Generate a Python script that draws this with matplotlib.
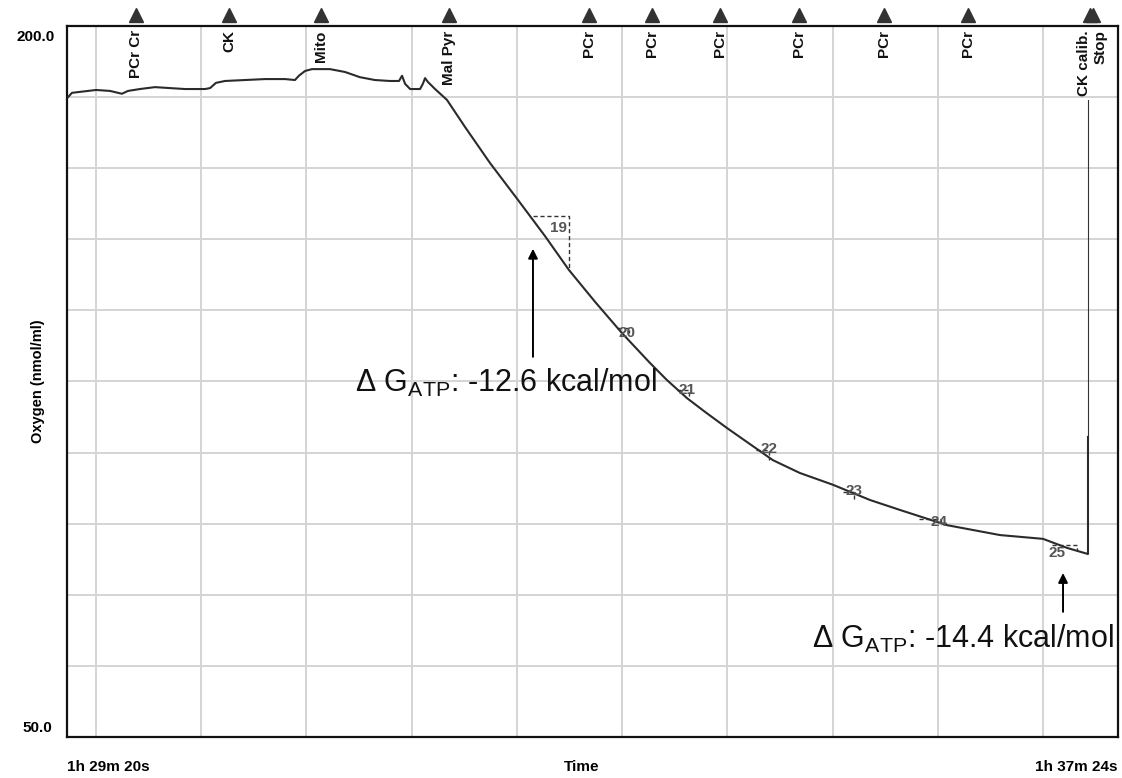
#!/usr/bin/env python3
"""Oxygen trace with event markers and rate boxes, drawn with matplotlib."""
import matplotlib
matplotlib.use("Agg")
import matplotlib.pyplot as plt
import matplotlib.transforms as mtransforms

plt.rcParams["font.family"] = ["Liberation Sans", "DejaVu Sans"]
plt.rcParams["mathtext.fontset"] = "custom"
plt.rcParams["mathtext.rm"] = "Liberation Sans"

# time in seconds from 1h 29m 20s, oxygen in nmol/ml
time_s = [0.5, 2.3, 6.0, 13.4, 19.8, 23.5, 25.3, 28.1, 33.6, 40.5, 47.4, 54.3,
          63.6, 65.9, 68.6, 72.8, 82.0, 91.2, 100.4, 105.0, 106.8, 109.6, 112.8,
          121.1, 128.0, 134.9, 141.8, 148.7, 152.9, 154.3, 155.7, 158.0, 162.6,
          163.9, 164.9, 166.2, 169.5, 175.0, 183.3, 194.8, 207.7, 220.1, 231.2,
          243.2, 255.6, 268.5, 276.3, 285.5, 293.8, 303.9, 314.5, 325.1, 337.5,
          352.8, 369.8, 383.6, 405.2, 429.7, 449.5, 460.5, 470.2, 470.2]
oxygen = [185.0, 185.9, 186.1, 186.5, 186.3, 185.9, 185.7, 186.3, 186.7, 187.1,
          186.9, 186.7, 186.7, 186.9, 188.0, 188.4, 188.6, 188.8, 188.8, 188.6,
          189.5, 190.5, 190.9, 190.9, 190.3, 189.2, 188.6, 188.4, 188.4, 189.5,
          187.8, 186.7, 186.7, 187.8, 189.0, 188.2, 186.7, 184.4, 178.7, 171.1,
          163.3, 155.7, 148.5, 141.8, 135.2, 128.9, 125.3, 121.5, 118.6, 115.2,
          111.8, 108.4, 105.7, 103.2, 100.0, 97.9, 94.7, 92.6, 91.8, 89.9, 88.6,
          113.3]

event_times = [31.8, 74.6, 117.0, 175.9, 240.4, 269.4, 300.7, 337.1, 376.2,
               414.9, 471.0, 472.6]
event_labels = ["PCr Cr", "CK", "Mito", "Mal Pyr", "PCr", "PCr", "PCr", "PCr",
                "PCr", "PCr", "CK calib.", "Stop"]
# label positions of the last two events are pulled apart a little
event_label_times = [31.8, 74.6, 117.0, 175.9, 240.4, 269.4, 300.7, 337.1,
                     376.2, 414.9, 468.2, 476.0]

# rate boxes: start time, end time, top value, bottom value, label
box_t0 = [214.6, 253.3, 280.9, 317.2, 357.3, 392.2, 453.6]
box_t1 = [231.2, 258.8, 286.4, 323.2, 362.3, 402.3, 465.1]
box_top = [159.9, 136.2, 123.1, 110.6, 101.6, 95.9, 90.4]
box_bot = [148.5, 135.2, 121.5, 108.4, 100.0, 94.7, 89.3]
box_labels = ["19", "20", "21", "22", "23", "24", "25"]
label_t = [226.2, 258.0, 285.5, 323.2, 362.3, 401.7, 455.8]
label_v = [157.4, 135.3, 123.1, 110.8, 102.0, 95.4, 88.8]

# delta G annotations
dg_text = ["Δ G$_{\\mathrm{ATP}}$: -12.6 kcal/mol",
           "Δ G$_{\\mathrm{ATP}}$: -14.4 kcal/mol"]
dg_text_t = [132.6, 343.1]
dg_text_v = [124.7, 70.6]
dg_arrow_t = [214.6, 458.7]
dg_arrow_tail = [130.2, 76.4]
dg_arrow_head = [153.0, 84.6]

x_grid = [13.4 + 48.45 * k for k in range(10)]
y_grid = [50 + 15 * k for k in range(11)]


def main():
    fig = plt.figure(figsize=(11.22, 7.78), dpi=100)
    ax = fig.add_axes([0.0597, 0.0527, 0.9367, 0.9139])
    ax.set_xlim(0, 484)
    ax.set_ylim(50, 200)

    for gx in x_grid:
        ax.axvline(gx, color="#d4d4d4", lw=1.4, zorder=0)
    for gy in y_grid:
        ax.axhline(gy, color="#d4d4d4", lw=1.4, zorder=0)

    ax.set_xticks([])
    ax.set_yticks([])
    for sp in ax.spines.values():
        sp.set_linewidth(1.6)
        sp.set_color("#111111")

    # trace
    ax.plot(time_s, oxygen, color="#2b2b2b", lw=1.5, zorder=3)
    ax.plot([time_s[-1], time_s[-1]], [oxygen[-1], 184.4], color="#333333",
            lw=0.8, zorder=3)

    # event markers
    trans = mtransforms.blended_transform_factory(ax.transData, ax.transAxes)
    for t, lt, lab in zip(event_times, event_label_times, event_labels):
        ax.plot([t], [1.0155], marker="^", ms=10, color="#333333",
                transform=trans, clip_on=False)
        ax.text(lt, 0.994, lab, transform=trans, rotation=90, ha="center",
                va="top", fontsize=11, fontweight="bold", color="#111111",
                zorder=4)

    # rate boxes
    for t0, t1, top, bot, lab, lt, lv in zip(box_t0, box_t1, box_top, box_bot,
                                             box_labels, label_t, label_v):
        ax.plot([t0, t1, t1], [top, top, bot], color="#333333", lw=1.0,
                ls=(0, (3, 2)), zorder=2)
        ax.text(lt, lv, lab, ha="center", va="center", fontsize=11,
                fontweight="bold", color="#555555", zorder=4)

    # delta G annotations
    for txt, tt, tv, at, a0, a1 in zip(dg_text, dg_text_t, dg_text_v,
                                       dg_arrow_t, dg_arrow_tail, dg_arrow_head):
        ax.text(tt, tv, txt, ha="left", va="center", fontsize=22,
                color="#111111", zorder=5)
        ax.annotate("", xy=(at, a1), xytext=(at, a0),
                    arrowprops=dict(arrowstyle="-|>", color="black", lw=1.4,
                                    mutation_scale=14, shrinkA=0, shrinkB=0))

    # axis texts
    ax.text(-0.012, 0.985, "200.0", transform=ax.transAxes, ha="right",
            va="center", fontsize=11, fontweight="bold")
    ax.text(-0.014, 0.013, "50.0", transform=ax.transAxes, ha="right",
            va="center", fontsize=11, fontweight="bold")
    ax.text(-0.028, 0.5, "Oxygen (nmol/ml)", transform=ax.transAxes,
            rotation=90, ha="center", va="center", fontsize=10.5,
            fontweight="bold")
    ax.text(0.0, -0.042, "1h 29m 20s", transform=ax.transAxes, ha="left",
            va="center", fontsize=11, fontweight="bold")
    ax.text(0.49, -0.042, "Time", transform=ax.transAxes, ha="center",
            va="center", fontsize=11, fontweight="bold")
    ax.text(1.0, -0.042, "1h 37m 24s", transform=ax.transAxes, ha="right",
            va="center", fontsize=11, fontweight="bold")

    fig.savefig("out.png", dpi=100)
    plt.close(fig)


if __name__ == "__main__":
    main()
